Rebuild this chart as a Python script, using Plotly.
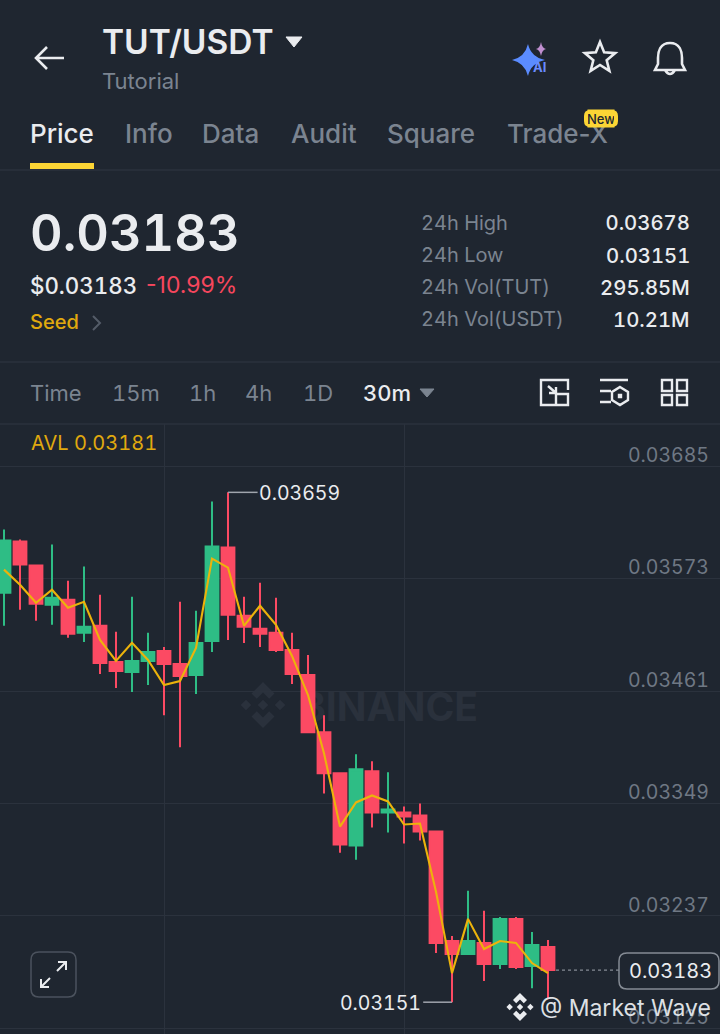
import re
import plotly.graph_objects as go

# candles (30m)
candle_index = list(range(35))
open_ = [0.03559, 0.03610, 0.03586, 0.03547, 0.03552, 0.03519, 0.03526, 0.03490, 0.03480, 0.03491, 0.03501, 0.03488,
         0.03477, 0.03511, 0.03604, 0.03536, 0.03523, 0.03519, 0.03502, 0.03477, 0.03420, 0.03379, 0.03307, 0.03381,
         0.03340, 0.03340, 0.03337, 0.03321, 0.03212, 0.03199, 0.03210, 0.03189, 0.03234, 0.03187, 0.03206]
high = [0.03622, 0.03612, 0.03586, 0.03607, 0.03571, 0.03585, 0.03557, 0.03520, 0.03555, 0.03519, 0.03505, 0.03550,
        0.03541, 0.03650, 0.03659, 0.03555, 0.03569, 0.03554, 0.03519, 0.03497, 0.03437, 0.03379, 0.03398, 0.03391,
        0.03380, 0.03346, 0.03349, 0.03321, 0.03217, 0.03262, 0.03242, 0.03236, 0.03236, 0.03221, 0.03213]
low = [0.03526, 0.03542, 0.03531, 0.03527, 0.03514, 0.03510, 0.03478, 0.03464, 0.03460, 0.03467, 0.03437, 0.03405,
       0.03458, 0.03500, 0.03512, 0.03509, 0.03505, 0.03500, 0.03468, 0.03420, 0.03359, 0.03300, 0.03293, 0.03325,
       0.03320, 0.03309, 0.03312, 0.03200, 0.03151, 0.03199, 0.03172, 0.03184, 0.03184, 0.03165, 0.03154]
close = [0.03611, 0.03587, 0.03548, 0.03554, 0.03518, 0.03525, 0.03489, 0.03481, 0.03491, 0.03500, 0.03488, 0.03476,
         0.03509, 0.03605, 0.03537, 0.03525, 0.03518, 0.03502, 0.03478, 0.03420, 0.03379, 0.03308, 0.03383, 0.03340,
         0.03343, 0.03336, 0.03321, 0.03210, 0.03199, 0.03212, 0.03189, 0.03234, 0.03186, 0.03208, 0.03183]
avl = [0.03582, 0.03567, 0.03549, 0.03562, 0.03544, 0.03550, 0.03512, 0.03491, 0.03509, 0.03492, 0.03467, 0.03471,
       0.03504, 0.03593, 0.03584, 0.03526, 0.03546, 0.03527, 0.03496, 0.03457, 0.03399, 0.03326, 0.03350, 0.03357,
       0.03351, 0.03328, 0.03329, 0.03261, 0.03180, 0.03234, 0.03204, 0.03212, 0.03210, 0.03190, 0.03180]

price_ticks = [0.03685, 0.03573, 0.03461, 0.03349, 0.03237, 0.03125]
tick_labels = ['0.03685', '0.03573', '0.03461', '0.03349', '0.03237', '0.03125']
stat_names = ['24h High', '24h Low', '24h Vol(TUT)', '24h Vol(USDT)']
stat_values = ['0.03678', '0.03151', '295.85M', '10.21M']

BG = '#1f2630'
GRID = '#2b323d'
WHITE = '#eaecef'
GREY = '#7b8490'
GOLD = '#f0b90b'
RED = '#fc4a63'
GREEN = '#2ebd85'
W, H = 720, 1034


def px(x):
    return x / W


def py(y):
    return 1 - y / H


def path(d):
    # svg-like path in screen pixels -> paper coordinates
    out, is_x = [], True
    for tok in re.findall(r'[A-Za-z]|-?\d+\.?\d*', d):
        if tok.isalpha():
            out.append(tok)
        else:
            out.append(f'{px(float(tok)):.5f}' if is_x else f'{py(float(tok)):.5f}')
            is_x = not is_x
    return ' '.join(out)


shapes = []
annotations = []


def icon(d, color=WHITE, width=2.2, fill=None, layer='above'):
    shapes.append(dict(type='path', xref='paper', yref='paper', path=path(d), layer=layer,
                       line=dict(color=color, width=width), fillcolor=fill or 'rgba(0,0,0,0)'))


def text(x, y, s, size, color=WHITE, anchor='left', weight=400):
    x = x - 1.5 if anchor == 'left' else x
    annotations.append(dict(x=px(x), y=py(y), xref='paper', yref='paper', text=s, showarrow=False,
                            xanchor=anchor, yanchor='middle', align=anchor, borderpad=0,
                            font=dict(family='Inter', size=size, color=color, weight=weight)))


def logo(cx, cy, r, color, layer='above'):
    for dx in (0, -0.74, 0.74):
        x, h = cx + dx * r, 0.23 * r
        icon(f'M{x - h} {cy} L{x} {cy - h} L{x + h} {cy} L{x} {cy + h} Z', color, 0, color, layer)
    for sgn in (-1, 1):
        icon(f'M{cx} {cy + sgn * r} L{cx + 0.5 * r} {cy + sgn * 0.5 * r} L{cx + 0.27 * r} {cy + sgn * 0.27 * r} '
             f'L{cx} {cy + sgn * 0.54 * r} L{cx - 0.27 * r} {cy + sgn * 0.27 * r} '
             f'L{cx - 0.5 * r} {cy + sgn * 0.5 * r} Z', color, 0, color, layer)


# header
icon('M36 58 L64 58 M47 47 L36 58 L47 69', width=2.6)
text(102, 42, 'TUT/USDT', 33.5, WHITE, weight=600)
icon('M286 37 L302 37 L294 47 Z', fill=WHITE, width=1)
text(102, 81, 'Tutorial', 22, GREY)
icon('M512 60 Q525 57 528 44 Q531 57 545 60 Q531 63 528 76 Q525 63 512 60 Z', '#5b8cff', 0, '#5b8cff')
icon('M536 49 Q540 48 541 42 Q542 48 546 49 Q542 50 541 56 Q540 50 536 49 Z', '#c08fd0', 0, '#c08fd0')
text(533, 67, 'AI', 13, '#6a8cff', weight=700)
icon('M600 42 L604.1 52.3 L615.2 53.1 L606.7 60.2 L609.4 70.9 L600 65 L590.6 70.9 L593.3 60.2 L584.8 53.1 L595.9 52.3 Z',
     width=2.6)
icon('M670 43 C660 43 658 52 658 58 L658 64 L655 70 L685 70 L682 64 L682 58 C682 52 680 43 670 43 Z M665 70 Q670 78 675 70',
     width=2.6)

# tabs
text(30, 133, 'Price', 26, WHITE, weight=500)
for x, s in zip([125, 202, 291, 387, 507], ['Info', 'Data', 'Audit', 'Square', 'Trade-X']):
    text(x, 133, s, 26, GREY, weight=500)
icon('M30 163 L94 163 L94 169 L30 169 Z', GOLD, 0, '#fcd535')
# badge sits on top of the Trade-X text, so the middle of it is an annotation with a background
icon('M590 110 L612 110 Q618 110 618 116 L618 121 Q618 127 612 127 L590 127 Q584 127 584 121 L584 116 Q584 110 590 110 Z',
     GOLD, 0, '#fcd535')
annotations.append(dict(x=px(601), y=py(118.5), xref='paper', yref='paper', text='New', showarrow=False,
                        xanchor='center', yanchor='middle', borderpad=0, bgcolor='#fcd535', width=26, height=17,
                        font=dict(family='Inter', size=13, color='#202630', weight=500)))
icon('M0 170 L720 170', GRID, 1.5)

# price block
text(30, 232, '0.03183', 50.5, WHITE, weight=600)
text(30, 285, '$0.03183', 22.3, WHITE, weight=500)
text(146, 285, '-10.99%', 23, '#f6465d')
text(30, 322, 'Seed', 20, '#e0a90e', weight=500)
icon('M93 316 L100 323 L93 330', '#545c68', 2)
for y, name, value in zip([223, 255, 287, 319], stat_names, stat_values):
    text(421, y, name, 20, GREY)
    text(691, y, value, 20.3, WHITE, 'right', 500)
icon('M0 362 L720 362', GRID, 1.5)

# interval row
for x, s in zip([30, 112, 189, 245, 303], ['Time', '15m', '1h', '4h', '1D']):
    text(x, 393, s, 22, GREY)
text(363, 393, '30m', 22, WHITE, weight=500)
icon('M420 389 L434 389 L427 397 Z', GREY, 1, GREY)
icon('M568 390 L568 380 L541 380 L541 405 L556 405 M556 394 L568 394 L568 405 L556 405 Z M548 386 L556 393 M556 387 L556 393 L549 393',
     width=2.4)
icon('M600 380 L628 380 M600 391 L611 391 M600 402 L611 402 M620 387 L628 392 L628 400 L620 405 L612 400 L612 392 Z '
     'M619 395 L621 395 L621 397 L619 397 Z', width=2.4)
icon('M662 380 L672 380 L672 391 L662 391 Z M677 380 L687 380 L687 391 L677 391 Z '
     'M662 395 L672 395 L672 405 L662 405 Z M677 395 L687 395 L687 405 L677 405 Z', width=2.4)
icon('M0 424 L720 424', GRID, 1.5)

# chart overlays
text(31, 443, 'AVL 0.03181', 20, '#e0a90e')
logo(263, 705, 23, '#2a313c', 'below')
shapes.append(dict(type='rect', xref='paper', yref='paper', x0=px(298), x1=px(480), y0=py(725), y1=py(685),
                   layer='below', line=dict(width=0),
                   label=dict(text='BINANCE', textposition='middle center',
                              font=dict(family='Inter', size=39, color='#2a313c', weight=700))))

# high / low markers
hi = max(high)
lo = min(low)
shapes.append(dict(type='line', xref='x', yref='y', x0=high.index(hi), x1=high.index(hi) + 1.85, y0=hi, y1=hi,
                   line=dict(color='#a0a5ad', width=1.5)))
annotations.append(dict(x=high.index(hi) + 1.9, y=hi, xref='x', yref='y', yshift=-1, text=f'{hi:.5f}', showarrow=False,
                        xanchor='left', yanchor='middle', align='left', borderpad=0,
                        font=dict(family='Inter', size=19.5, color=WHITE)))
shapes.append(dict(type='line', xref='x', yref='y', x0=low.index(lo), x1=low.index(lo) - 1.8, y0=lo, y1=lo,
                   line=dict(color='#a0a5ad', width=1.5)))
annotations.append(dict(x=low.index(lo) - 1.85, y=lo, xref='x', yref='y', yshift=-1, text=f'{lo:.5f}', showarrow=False,
                        xanchor='right', yanchor='middle', align='right', borderpad=0,
                        font=dict(family='Inter', size=19.5, color=WHITE)))

# last price
last = close[-1]
shapes.append(dict(type='line', xref='paper', yref='y', x0=px(556), x1=px(619), y0=last, y1=last,
                   line=dict(color='#858b94', width=1.3, dash='3px,3px')))
icon('M627 953 L711 953 Q719 953 719 961 L719 981 Q719 989 711 989 L627 989 Q619 989 619 981 L619 961 Q619 953 627 953 Z',
     '#858b94', 1.5, BG)
text(670, 971, f'{last:.5f}', 20, WHITE, 'center')

# expand button
icon('M39 952 L68 952 Q76 952 76 960 L76 989 Q76 997 68 997 L39 997 Q31 997 31 989 L31 960 Q31 952 39 952 Z',
     '#4b525d', 1.5, BG)
icon('M41 987 L50 978 M41 979 L41 987 L49 987 M57 971 L66 962 M58 962 L66 962 L66 970', width=2)

# repost mark
logo(520, 1007, 14, WHITE)
text(540, 1008, '@ Market Wave', 23, '#dde0e4')

fig = go.Figure()
fig.add_trace(go.Candlestick(
    x=candle_index, open=open_, high=high, low=low, close=close,
    increasing=dict(line=dict(color=GREEN, width=2), fillcolor=GREEN),
    decreasing=dict(line=dict(color=RED, width=2), fillcolor=RED),
    whiskerwidth=0, showlegend=False,
))
fig.add_trace(go.Scatter(x=candle_index, y=avl, mode='lines', line=dict(color='#ecb30b', width=2.1), showlegend=False))

fig.update_layout(
    width=W, height=H,
    margin=dict(l=0, r=0, t=0, b=0),
    paper_bgcolor=BG, plot_bgcolor=BG,
    boxgap=0.2, boxgroupgap=0,
    shapes=shapes, annotations=annotations,
    font=dict(family='Inter', color=WHITE),
    xaxis=dict(range=[-0.25, 44.75], domain=[0, 1], rangeslider=dict(visible=False), tickvals=[10, 25],
               showticklabels=False, showgrid=True, gridcolor=GRID, gridwidth=1.2, zeroline=False, fixedrange=True),
    yaxis=dict(range=[0.031193, 0.037271], domain=[0, 1 - 424 / H], side='right', tickvals=price_ticks,
               ticktext=tick_labels, ticklabelposition='inside', ticklabelshift=-11, ticklabelstandoff=8,
               tickfont=dict(family='Inter', size=19.5, color='#6f7884'), showgrid=True, gridcolor=GRID, gridwidth=1.2,
               zeroline=False, fixedrange=True),
)

# page has a default 8px body margin; digits in the app are tabular, so switch that on for numeric texts
page_js = """document.body.style.margin='0';
document.body.style.background='#1f2630';
document.querySelectorAll('text').forEach(function(t) {
    if (/\\d/.test(t.textContent) && !/%/.test(t.textContent)) t.style.fontFeatureSettings='"tnum"';
});"""
fig.write_html("out.html", post_script=page_js, config=dict(displayModeBar=False))
